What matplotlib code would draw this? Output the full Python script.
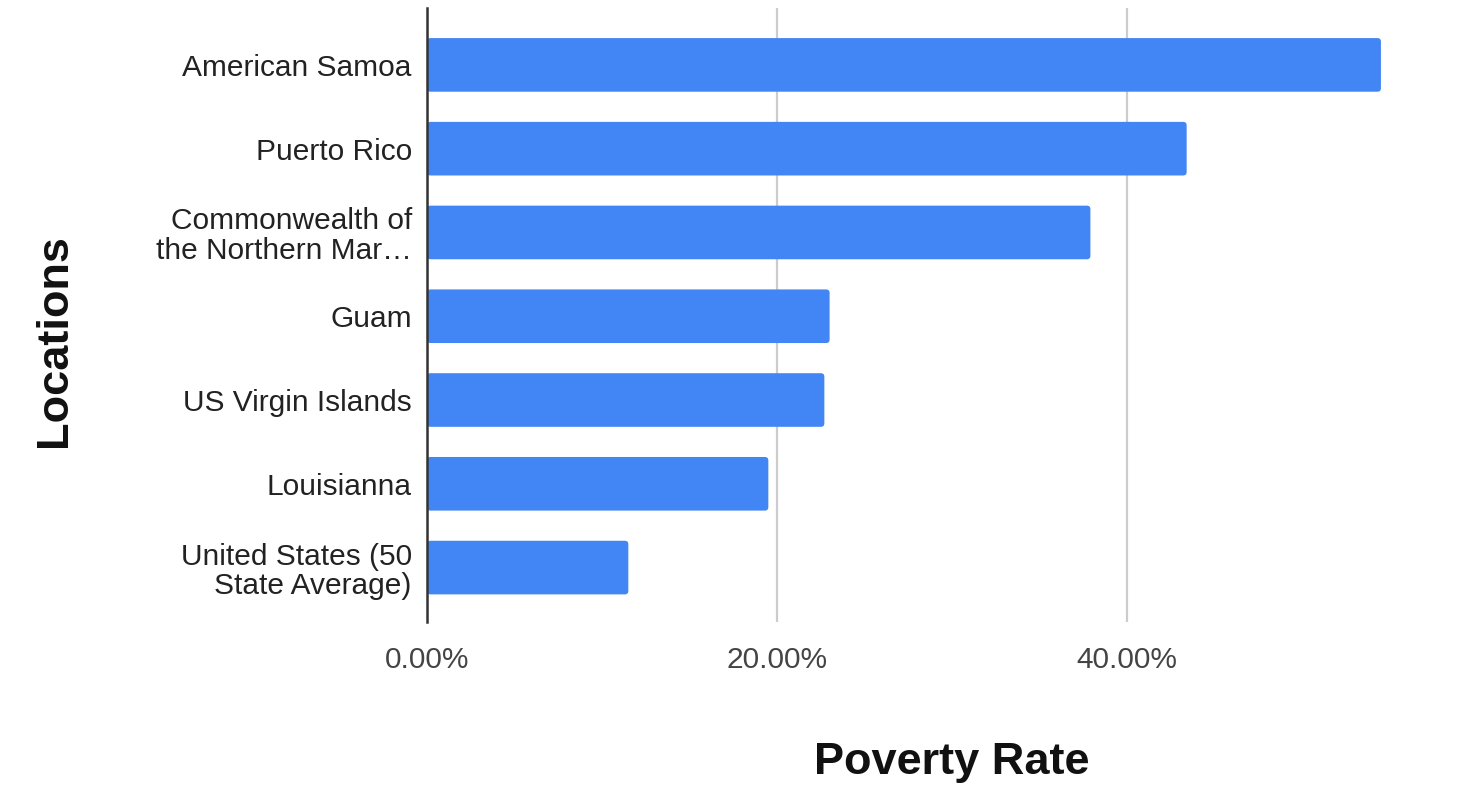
#  poverty rate by location -- horizontal bar chart
import numpy as np
import matplotlib.pyplot as plt
from matplotlib.patches import FancyBboxPatch
from matplotlib.ticker import FuncFormatter

# data
locations = ["American Samoa", "Puerto Rico",
             "Commonwealth of\nthe Northern Mar\u2026", "Guam",
             "US Virgin Islands", "Louisianna",
             "United States (50\nState Average)"]
poverty_rate = [54.5, 43.4, 37.9, 23.0, 22.7, 19.5, 11.5]  # percent

plt.rcParams['font.family'] = ['Liberation Sans', 'DejaVu Sans']

fig = plt.figure(figsize=(14.66, 7.93), dpi=100)
ax = fig.add_axes([0.2913, 0.2156, 0.6650, 0.7744])

ypos = np.arange(len(locations))
bar_h = 0.64
bars = ax.barh(ypos, poverty_rate, height=bar_h, color="none", zorder=3)

ax.set_xlim(0, 55.7)
ax.set_ylim(6.65, -0.68)

# swap the plain bars for ones with slightly rounded corners
xpx = ax.bbox.width / 55.7
ypx = ax.bbox.height / 7.33
for b in bars:
    x, y = b.get_x(), b.get_y()
    w, h = b.get_width(), b.get_height()
    ax.add_patch(FancyBboxPatch((x, y), w, h,
                                boxstyle="round,pad=0,rounding_size=0.2",
                                mutation_aspect=xpx / ypx,
                                fc="#4285F4", ec="none", zorder=3))

ax.set_xticks([0, 20, 40])
ax.xaxis.set_major_formatter(FuncFormatter(lambda v, p: "%.2f%%" % v))
ax.set_yticks(ypos)
ax.set_yticklabels(locations, linespacing=1.05)

ax.tick_params(axis="y", length=0, pad=11, labelsize=21.5, labelcolor="#222222")
ax.tick_params(axis="x", length=0, pad=17, labelsize=21.5, labelcolor="#444444")

ax.grid(axis="x", color="#cccccc", linewidth=1.6, zorder=0)
ax.set_axisbelow(True)
for s in ["top", "right", "bottom"]:
    ax.spines[s].set_visible(False)
ax.spines["left"].set_color("#333333")
ax.spines["left"].set_linewidth(1.8)
ax.spines["left"].set_zorder(4)

fig.text(0.649, 0.038, "Poverty Rate", ha="center", va="center",
         fontsize=32.5, fontweight="bold", color="#111111")
fig.text(0.0375, 0.571, "Locations", ha="center", va="center",
         rotation=90, fontsize=32.5, fontweight="bold", color="#111111")

fig.savefig("out.png", dpi=100)
